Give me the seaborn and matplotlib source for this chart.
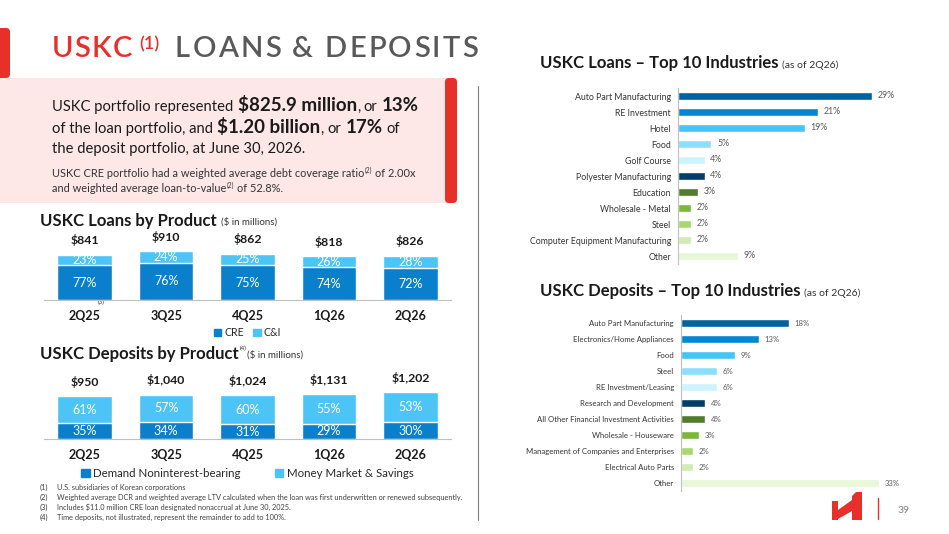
import numpy as np
import matplotlib
matplotlib.use("Agg")
import matplotlib.pyplot as plt
from matplotlib.patches import Rectangle, FancyBboxPatch, Polygon, Patch
import seaborn as sns

# ---- data ----
quarters = ["2Q25", "3Q25", "4Q25", "1Q26", "2Q26"]
loan_totals = [841, 910, 862, 818, 826]
cre_pct = [77, 76, 75, 74, 72]
ci_pct = [23, 24, 25, 26, 28]

dep_totals = [950, 1040, 1024, 1131, 1202]
demand_pct = [35, 34, 31, 29, 30]
mms_pct = [61, 57, 60, 55, 53]

loan_industries = ["Auto Part Manufacturing", "RE Investment", "Hotel", "Food", "Golf Course",
                   "Polyester Manufacturing", "Education", "Wholesale - Metal", "Steel",
                   "Computer Equipment Manufacturing", "Other"]
loan_ind_pct = [29, 21, 19, 5, 4, 4, 3, 2, 2, 2, 9]

dep_industries = ["Auto Part Manufacturing", "Electronics/Home Appliances", "Food", "Steel",
                  "RE Investment/Leasing", "Research and Development",
                  "All Other Financial Investment Activities", "Wholesale - Houseware",
                  "Management of Companies and Enterprises", "Electrical Auto Parts", "Other"]
dep_ind_pct = [18, 13, 9, 6, 6, 4, 4, 3, 2, 2, 33]

ind_colors = ["#00629E", "#0586D3", "#45C5F7", "#8CDFFC", "#CDF3FE", "#003E6A",
              "#4F7D2B", "#7BB83A", "#A7D86F", "#D1ECB2", "#E7F7D8"]

footnotes = [
    ("(1)", "U.S. subsidiaries of Korean corporations"),
    ("(2)", "Weighted average DCR and weighted average LTV calculated when the loan was first underwritten or renewed subsequently."),
    ("(3)", "Includes $11.0 million CRE loan designated nonaccrual at June 30, 2025."),
    ("(4)", "Time deposits, not illustrated, represent the remainder to add to 100%."),
]

DARK = "#0A80CC"
LIGHT = "#4DC4F6"
RED = "#E8302A"
TXT = "#1A1A1A"

sns.set_style("white")
plt.rcParams["font.family"] = ["Lato", "DejaVu Sans"]

W, H = 949, 534
fig = plt.figure(figsize=(W / 100, H / 100), dpi=100)
fig.patch.set_facecolor("white")

bg = fig.add_axes([0, 0, 1, 1])
bg.set_xlim(0, W)
bg.set_ylim(H, 0)
bg.axis("off")
R = fig.canvas.get_renderer()


def box(x0, y0, x1, y1):
    return [x0 / W, 1 - y1 / H, (x1 - x0) / W, (y1 - y0) / H]


def width_of(s, **kw):
    t = bg.text(0, 0, s, **kw)
    w = t.get_window_extent(R).width
    t.remove()
    return w


def rich(x, y, parts):
    # parts: (text, fontsize, weight, color, dy)
    for s, size, weight, color, dy in parts:
        kw = dict(fontsize=size, fontweight=weight)
        if s.startswith(" "):
            x += width_of("n n", **kw) - width_of("nn", **kw)
            s = s.lstrip()
        t = bg.text(x, y + dy, s, color=color, va="baseline", ha="left", **kw)
        x += t.get_window_extent(R).width
    return x


def spaced(x, y, s, spacing, **kw):
    sp = width_of("n n", **kw) - width_of("nn", **kw)
    for ch in s:
        if ch == " ":
            x += sp + spacing
            continue
        t = bg.text(x, y, ch, va="baseline", ha="left", **kw)
        x += t.get_window_extent(R).width + spacing
    return x


# ---- slide decorations ----
bg.add_patch(FancyBboxPatch((-8, 28), 18, 50, boxstyle="round,pad=0,rounding_size=4", fc=RED, ec="none"))
bg.add_patch(Rectangle((0, 78), 450, 125, fc="#FDE7E7", ec="none"))
bg.add_patch(FancyBboxPatch((445, 78), 12, 125, boxstyle="round,pad=0,rounding_size=4", fc=RED, ec="none"))
bg.plot([478, 478], [86, 520], color="#7F7F7F", lw=0.8)

spaced(52, 57, "USKC", 1.2, fontsize=21, fontweight="semibold", color=RED)
bg.text(139, 49, "(1)", fontsize=13, fontweight="semibold", color=RED, va="baseline")
spaced(175, 57, "LOANS & DEPOSITS", 2.2, fontsize=21, fontweight="semibold", color="#595959")

NF = 10.6
rich(52, 111, [("USKC portfolio represented", NF, "normal", TXT, 0),
               (" $825.9 million", 13.5, "bold", TXT, 0),
               (",", NF, "normal", TXT, 0), (" or", NF, "normal", TXT, 0),
               (" 13%", 13.5, "bold", TXT, 0)])
rich(52, 133, [("of the loan portfolio, and", NF, "normal", TXT, 0),
               (" $1.20 billion", 13.5, "bold", TXT, 0),
               (",", NF, "normal", TXT, 0), (" or", NF, "normal", TXT, 0),
               (" 17%", 13.5, "bold", TXT, 0), (" of", NF, "normal", TXT, 0)])
rich(52, 153, [("the deposit portfolio, at June 30, 2026.", NF, "normal", TXT, 0)])
rich(52, 177, [("USKC CRE portfolio had a weighted average debt coverage ratio", 7.9, "normal", "#333333", 0),
               ("(2)", 4.8, "normal", "#333333", -4),
               (" of 2.00x", 7.9, "normal", "#333333", 0)])
rich(52, 192, [("and weighted average loan-to-value", 7.9, "normal", "#333333", 0),
               ("(2)", 4.8, "normal", "#333333", -4),
               (" of 52.8%.", 7.9, "normal", "#333333", 0)])

rich(40, 226, [("USKC Loans by Product", 12, "bold", TXT, 0),
               (" ", 12, "normal", TXT, 0),
               ("($ in millions)", 7, "normal", "#333333", -1)])
rich(40, 359, [("USKC Deposits by Product", 12, "bold", TXT, 0),
               (" (4)", 4.5, "normal", "#333333", -9),
               ("($ in millions)", 7, "normal", "#333333", -1)])
rich(540, 68, [("USKC Loans \u2013 Top 10 Industries", 12, "bold", TXT, 0),
               (" ", 9, "normal", TXT, 0),
               ("(as of 2Q26)", 7.5, "normal", "#333333", 0)])
rich(540, 296, [("USKC Deposits \u2013 Top 10 Industries", 12, "bold", TXT, 0),
                (" ", 9, "normal", TXT, 0),
                ("(as of 2Q26)", 7.5, "normal", "#333333", 0)])

for i, (num, txt) in enumerate(footnotes):
    yy = 490 + i * 10
    bg.text(40, yy, num, fontsize=5.3, color="#404040", va="baseline")
    bg.text(57, yy, txt, fontsize=5.3, color="#404040", va="baseline")

# logo + page number
bg.add_patch(Polygon([(832, 501), (838, 501), (838, 510), (852, 500), (852, 496), (856, 492),
                      (862, 492), (862, 520), (852, 520), (852, 511), (838, 519), (838, 520),
                      (832, 520)], closed=True, fc=RED, ec="none"))
bg.plot([878, 878], [498, 519], color=RED, lw=1)
bg.text(898, 513, "39", fontsize=7.5, color="#808080", va="baseline")


# ---- stacked vertical bar charts ----
def stacked(ax, totals, low_pct, high_pct, ymax):
    low = np.array(totals) * np.array(low_pct) / 100
    top = np.array(totals) * (np.array(low_pct) + np.array(high_pct)) / 100
    sns.barplot(x=quarters, y=top, order=quarters, color=LIGHT, saturation=1, width=0.67, ax=ax)
    sns.barplot(x=quarters, y=low, order=quarters, color=DARK, saturation=1, width=0.67, ax=ax)
    ax.set_ylim(0, ymax)
    ax.set_xlim(-0.5, len(quarters) - 0.5)
    for i in range(len(quarters)):
        ax.text(i, low[i] / 2, f"{low_pct[i]}%", ha="center", va="center", color="white", fontsize=9)
        ax.text(i, (low[i] + top[i]) / 2, f"{high_pct[i]}%", ha="center", va="center",
                color="white", fontsize=9)
        ax.annotate(f"${totals[i]:,}", (i, top[i]), xytext=(0, 6), textcoords="offset points",
                    ha="center", va="bottom", fontsize=8.8, fontweight="bold", color=TXT)
    sns.despine(ax=ax, left=True)
    ax.spines["bottom"].set_color("#BFBFBF")
    ax.set_yticks([])
    ax.set_xlabel("")
    ax.set_ylabel("")
    ax.set_xticks(np.arange(-0.5, len(quarters)), minor=True)
    ax.tick_params(axis="x", which="major", length=0, labelsize=9, pad=7, colors=TXT)
    ax.tick_params(axis="x", which="minor", length=4, color="#BFBFBF", direction="out")
    for lab in ax.get_xticklabels():
        lab.set_fontweight("bold")
    ax.patch.set_alpha(0)


ax1 = fig.add_axes(box(44, 230, 451, 300))
stacked(ax1, loan_totals, cre_pct, ci_pct, 1300)
ax1.legend(handles=[Patch(color=DARK), Patch(color=LIGHT)], labels=["CRE", "C&I"],
           loc="center", bbox_to_anchor=(0.5, -0.47), ncol=2, frameon=False, fontsize=7.6,
           handlelength=0.7, handleheight=0.7, handletextpad=0.3, columnspacing=0.9)
bg.text(98, 304, "(3)", fontsize=4.5, color="#333333")

ax2 = fig.add_axes(box(44, 369, 451, 439))
stacked(ax2, dep_totals, demand_pct, mms_pct, 1490)
ax2.legend(handles=[Patch(color=DARK), Patch(color=LIGHT)],
           labels=["Demand Noninterest-bearing", "Money Market & Savings"],
           loc="center", bbox_to_anchor=(0.5, -0.49), ncol=2, frameon=False, fontsize=8.3,
           handlelength=0.7, handleheight=0.7, handletextpad=0.3, columnspacing=3.0)


# ---- horizontal industry charts ----
def industry(ax, names, vals, xmax, fs, pad):
    sns.barplot(x=vals, y=names, hue=names, palette=dict(zip(names, ind_colors)),
                legend=False, orient="h", width=0.5, saturation=1, ax=ax)
    ax.set_xlim(0, xmax)
    ax.set_ylim(len(names) - 0.5, -0.5)
    for i, v in enumerate(vals):
        ax.annotate(f"{v}%", (v, i), xytext=(4, 0), textcoords="offset points",
                    ha="left", va="center", fontsize=fs, color="#595959")
    sns.despine(ax=ax, bottom=True)
    ax.spines["left"].set_color("#BFBFBF")
    ax.set_xticks([])
    ax.set_xlabel("")
    ax.set_ylabel("")
    ax.set_yticks(np.arange(-0.5, len(names)), minor=True)
    ax.tick_params(axis="y", which="major", length=0, labelsize=fs, pad=pad, colors="#333333")
    ax.tick_params(axis="y", which="minor", length=3, color="#BFBFBF", direction="out")
    ax.patch.set_alpha(0)


ax3 = fig.add_axes(box(678, 88, 892, 264))
industry(ax3, loan_industries, loan_ind_pct, 32, 6.3, 5)

ax4 = fig.add_axes(box(681, 315, 897, 491))
industry(ax4, dep_industries, dep_ind_pct, 36, 5.6, 5)

fig.savefig("out.png", dpi=100)
